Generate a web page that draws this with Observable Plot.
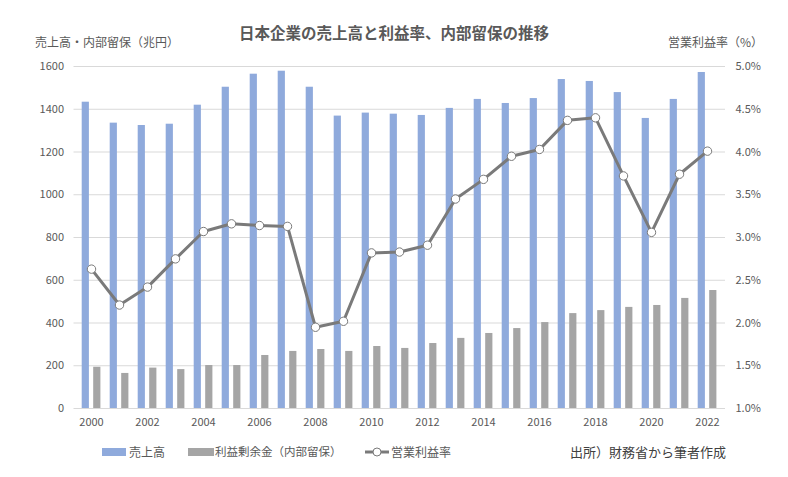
<!DOCTYPE html>
<html><head><meta charset="utf-8">
<script src="https://cdn.jsdelivr.net/npm/d3@7"></script>
<script src="https://cdn.jsdelivr.net/npm/@observablehq/plot@0.6"></script>
<style>
body{margin:0;background:#fff;font-family:"Noto Sans CJK JP",sans-serif;}
#wrap{position:relative;width:788px;height:477px;overflow:hidden;background:#fff}
#chart{position:absolute;left:0;top:0}
.t{position:absolute;white-space:nowrap;color:#595959;line-height:1}
.sw{position:absolute;height:8px}
</style></head><body>
<div id="wrap">
<div id="chart"></div>
<div class="t" style="left:0;width:788px;text-align:center;top:25px;font-size:15.5px;font-weight:bold">日本企業の売上高と利益率、内部留保の推移</div>
<div class="t" style="left:35px;top:36px;font-size:12px">売上高・内部留保（兆円）</div>
<div class="t" style="right:25px;top:36px;font-size:12px">営業利益率（%）</div>
<div class="sw" style="left:102px;top:448px;width:24px;background:#8faadc"></div>
<div class="t" style="left:129px;top:446px;font-size:12px">売上高</div>
<div class="sw" style="left:188px;top:448px;width:26px;background:#a5a5a5"></div>
<div class="t" style="left:215px;top:446px;font-size:11.5px">利益剰余金（内部留保）</div>
<svg style="position:absolute;left:364px;top:444px" width="26" height="16"><line x1="1" y1="8" x2="25" y2="8" stroke="#7a7a7a" stroke-width="3"/><circle cx="13" cy="8" r="4" fill="#fff" stroke="#7a7a7a" stroke-width="1"/></svg>
<div class="t" style="left:391px;top:446px;font-size:12px">営業利益率</div>
<div class="t" style="left:570px;top:445px;font-size:13px;color:#404040">出所）財務省から筆者作成</div>
</div>
<script>
const years = d3.range(2000, 2023);
const sales = [1433,1335,1324,1330,1419,1503,1564,1578,1503,1368,1382,1377,1371,1404,1446,1427,1450,1539,1530,1478,1357,1446,1572];
const retained = [193,164,189,182,201,201,248,267,276,267,290,281,304,328,351,374,402,444,458,473,482,515,552];
const margin = [2.63,2.21,2.42,2.75,3.07,3.16,3.14,3.13,1.95,2.02,2.82,2.83,2.91,3.45,3.68,3.95,4.03,4.37,4.40,3.72,3.06,3.74,4.01];
const leftTicks = [0,200,400,600,800,1000,1200,1400,1600];
const rightTicks = ["1.0%","1.5%","2.0%","2.5%","3.0%","3.5%","4.0%","4.5%","5.0%"];

const data = years.map((y,i)=>({year:y, sales:sales[i], retained:retained[i], margin:margin[i]}));
// right axis: 1.0%..5.0% mapped onto 0..1600
const pctToLeft = p => (p - 1) * 400;

const chart = Plot.plot({
  width: 788, height: 477,
  marginTop: 66, marginBottom: 69, marginLeft: 73.5, marginRight: 63,
  style: {fontFamily: '"Noto Sans CJK JP", sans-serif', fontSize: "11px", color: "#595959", background: "transparent"},
  x: {type: "band", domain: years, padding: 0, label: null},
  y: {domain: [0, 1600], label: null},
  marks: [
    Plot.gridY(leftTicks, {stroke: "#d9d9d9", strokeOpacity: 1, strokeWidth: 1}),
    Plot.axisY(leftTicks, {anchor: "left", tickSize: 0, tickPadding: 10, label: null, fill: "#595959",
      tickFormat: d => String(d)}),
    Plot.axisY(leftTicks, {anchor: "right", tickSize: 0, tickPadding: 10, label: null, fill: "#595959",
      tickFormat: d => rightTicks[leftTicks.indexOf(d)]}),
    Plot.axisX(years.filter(y => y % 2 === 0), {tickSize: 0, tickPadding: 10, label: null, fill: "#595959",
      tickFormat: d => String(d)}),
    Plot.barY(data, {x: "year", y: "sales", fill: "#8faadc", insetLeft: 4.7, insetRight: 16.1}),
    Plot.barY(data, {x: "year", y: "retained", fill: "#a5a5a5", insetLeft: 16.2, insetRight: 4.6}),
    Plot.line(data, {x: "year", y: d => pctToLeft(d.margin), stroke: "#7a7a7a", strokeWidth: 3}),
    Plot.dot(data, {x: "year", y: d => pctToLeft(d.margin), r: 4.2, fill: "#fff", stroke: "#7a7a7a", strokeWidth: 1})
  ]
});
document.getElementById("chart").appendChild(chart);
</script>
</body></html>
